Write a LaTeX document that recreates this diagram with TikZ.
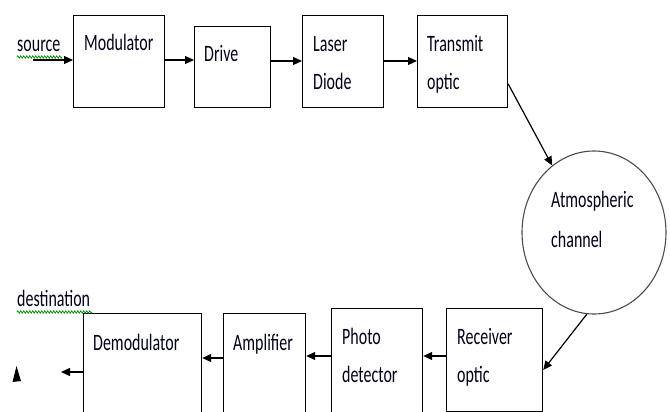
\documentclass[tikz,border=0pt]{standalone}
\usepackage{fontspec}
\setmainfont[FakeStretch=0.68]{Carlito}
\usetikzlibrary{arrows.meta,shapes.geometric,decorations.pathmorphing}
\begin{document}
\begin{tikzpicture}[x=1pt,y=-1pt,
  box/.style={draw,line width=1.2pt,anchor=north west,inner sep=0pt},
  lbl/.style={anchor=base west,inner sep=0pt,text=black!90!blue,font=\fontsize{23.5}{28}\selectfont},
  arr/.style={line width=1.2pt,-{Triangle[length=9pt,width=8pt]}},
  wavy/.style={draw=green!55!black,line width=0.7pt,decorate,decoration={zigzag,amplitude=1.2pt,segment length=3pt}}]
\useasboundingbox (0,0) rectangle (670,412);
\clip (0,0) rectangle (670,412);
% top row boxes
\node[box,minimum width=91pt,minimum height=92pt] (mod) at (73,15) {};
\node[box,minimum width=76pt,minimum height=81pt] (drv) at (194,26) {};
\node[box,minimum width=81pt,minimum height=92pt] (las) at (302,15) {};
\node[box,minimum width=90pt,minimum height=92pt] (trn) at (417,15) {};
% channel
\node[draw=black!70,line width=1.1pt,ellipse,inner sep=0pt,minimum width=144pt,minimum height=163pt] (atm) at (594,232.5) {};
% bottom row boxes
\node[box,minimum width=118pt,minimum height=130pt] (dem) at (83,313) {};
\node[box,minimum width=82pt,minimum height=130pt] (amp) at (223,313) {};
\node[box,minimum width=91pt,minimum height=130pt] (pho) at (331,308) {};
\node[box,minimum width=96pt,minimum height=103pt] (rec) at (446,308) {};
% labels
\node[lbl] (tsrc) at (17,52) {source};
\node[lbl] (tmod) at (84,51) {Modulator};
\node[lbl] (tdrv) at (204,62) {Drive};
\node[lbl] (tlas1) at (313,52) {Laser};
\node[lbl] (tlas2) at (313,90) {Diode};
\node[lbl] (ttrn1) at (427,52) {Transmit};
\node[lbl] (ttrn2) at (427,90) {optic};
\node[lbl] (tatm1) at (551,207) {Atmospheric};
\node[lbl] (tatm2) at (551,247) {channel};
\node[lbl] (tdst) at (17,306) {destination};
\node[lbl] (tdem) at (93,350) {Demodulator};
\node[lbl] (tamp) at (233,350) {Amplifier};
\node[lbl] (tpho1) at (342,344) {Photo};
\node[lbl] (tpho2) at (342,382) {detector};
\node[lbl] (trec1) at (457,344) {Receiver};
\node[lbl] (trec2) at (457,382) {optic};
% wavy underlines
\coordinate (w1a) at (17,57); \coordinate (w1b) at (62,57);
\coordinate (w2a) at (17,312); \coordinate (w2b) at (92,312);
\draw[wavy] (w1a) -- (w1b);
\draw[wavy] (w2a) -- (w2b);
% row coordinates
\coordinate (r1) at (0,60);
\coordinate (r2) at (0,61);
\coordinate (r3) at (0,84);
\coordinate (r4) at (0,356);
\coordinate (r5) at (0,358);
\coordinate (r6) at (0,372);
\coordinate (r7) at (0,370);
\coordinate (src) at (33,60);
\coordinate (dst) at (61,372);
% connectors
\draw[arr] (src) -- (mod.west |- r1);
\draw[arr] (mod.east |- r1) -- (drv.west |- r1);
\draw[arr] (drv.east |- r2) -- (las.west |- r2);
\draw[arr] (las.east |- r2) -- (trn.west |- r2);
\draw[arr] (trn.east |- r3) -- (atm.122);
\draw[arr] (atm.265) -- (rec.east |- r7);
\draw[arr] (rec.west |- r4) -- (pho.east |- r4);
\draw[arr] (pho.west |- r4) -- (amp.east |- r4);
\draw[arr] (amp.west |- r5) -- (dem.east |- r5);
\draw[arr] (dem.west |- r6) -- (dst);
% stray arrowhead
\fill (16.5,366) -- (12.5,382) -- (21,381) -- cycle;
\end{tikzpicture}
\end{document}
